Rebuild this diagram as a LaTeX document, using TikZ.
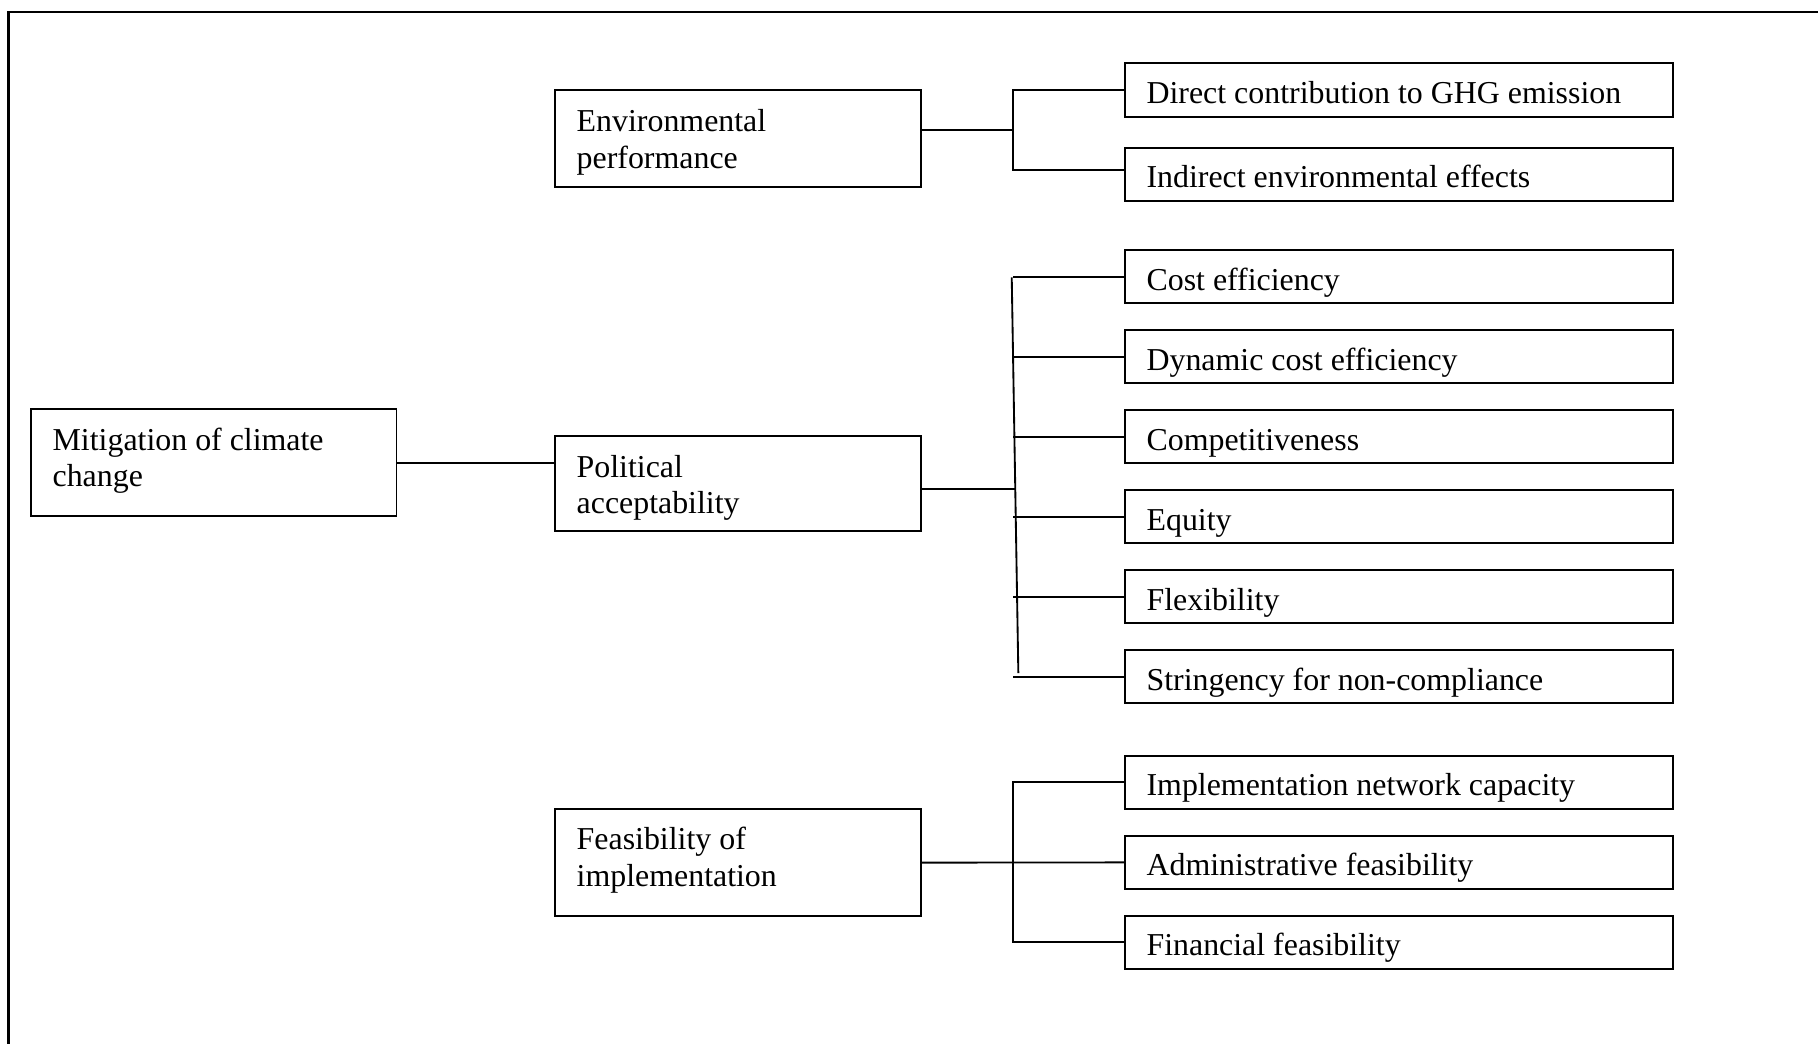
\documentclass[tikz,border=0pt]{standalone}
\usepackage{fontspec}
\setmainfont{Liberation Serif}
\usetikzlibrary{calc}
\begin{document}
\begin{tikzpicture}[x=0.5pt,y=-0.5pt,
  boxl/.style={draw, line width=0.8pt, inner sep=0pt, outer sep=0pt, anchor=north west, minimum width=157.5pt},
  boxr/.style={draw, line width=0.8pt, inner sep=0pt, outer sep=0pt, anchor=north west, minimum width=236.5pt, minimum height=23pt},
  lbl/.style={anchor=base west, inner sep=0pt, align=left, font=\fontsize{13.75pt}{15.8pt}\selectfont},
  conn/.style={line width=0.8pt}]
\useasboundingbox (0,0) rectangle (1568,900);
% outer frame
\draw[line width=0.9pt] (7.3,910) -- (7.3,10) -- (1580,10);

% left boxes
\node[boxl, minimum height=46pt] (mit) at (27,353) {};
\node[boxl, minimum height=42pt] (env) at (479,77.6) {};
\node[boxl, minimum height=41pt] (pol) at (479,376) {};
\node[boxl, minimum height=46pt] (fea) at (479,698) {};

% multi-line labels: base anchor is the baseline of the last line
\node[lbl] (tmit) at ($(mit.north west)+(18,67)$) {Mitigation of climate\\change};
\node[lbl] (tenv) at ($(env.north west)+(18,67.3)$) {Environmental\\performance};
\node[lbl] (tpol) at ($(pol.north west)+(18,67)$) {Political\\acceptability};
\node[lbl] (tfea) at ($(fea.north west)+(18,66.6)$) {Feasibility of\\implementation};

% right boxes
\node[boxr] (d1) at (970,54.6) {};
\node[boxr] (d2) at (970,127.4) {};
\node[boxr] (c1) at (970,215.6) {};
\node[boxr] (c2) at (970,284.6) {};
\node[boxr] (c3) at (970,353.6) {};
\node[boxr] (c4) at (970,422.6) {};
\node[boxr] (c5) at (970,491.6) {};
\node[boxr] (c6) at (970,560.6) {};
\node[boxr] (f1) at (970,651.8) {};
\node[boxr] (f2) at (970,720.8) {};
\node[boxr] (f3) at (970,789.8) {};

\node[lbl] (td1) at ($(d1.north west)+(18.5,34.6)$) {Direct contribution to GHG emission};
\node[lbl] (td2) at ($(d2.north west)+(18.5,34.6)$) {Indirect environmental effects};
\node[lbl] (tc1) at ($(c1.north west)+(18.5,34.6)$) {Cost efficiency};
\node[lbl] (tc2) at ($(c2.north west)+(18.5,34.6)$) {Dynamic cost efficiency};
\node[lbl] (tc3) at ($(c3.north west)+(18.5,34.6)$) {Competitiveness};
\node[lbl] (tc4) at ($(c4.north west)+(18.5,34.6)$) {Equity};
\node[lbl] (tc5) at ($(c5.north west)+(18.5,34.6)$) {Flexibility};
\node[lbl] (tc6) at ($(c6.north west)+(18.5,34.6)$) {Stringency for non-compliance};
\node[lbl] (tf1) at ($(f1.north west)+(18.5,34.6)$) {Implementation network capacity};
\node[lbl] (tf2) at ($(f2.north west)+(18.5,34.6)$) {Administrative feasibility};
\node[lbl] (tf3) at ($(f3.north west)+(18.5,34.6)$) {Financial feasibility};

% connectors
\coordinate (pv) at (874,0);
\draw[conn] (mit.east) -- (mit.east -| pol.west);

% environmental
\coordinate (ej) at (874,112.1);
\coordinate (d2in) at ($(d2.north west)+(0,19.2)$);
\draw[conn] ($(env.north east)+(0,34.5)$) -- (ej);
\draw[conn] (d1.west) -| (d2in -| pv) -- (d2in);

% political
\coordinate (ptop) at (872.6,239.2);
\coordinate (pbot) at (878.3,580.5);
\draw[conn] ($(pol.north east)+(0,45.5)$) -- ++(81.6,0) coordinate (pj);
\draw[conn] (ptop) -- (pbot);
\foreach \n in {c1,c2,c3,c4,c5,c6}
  \draw[conn] (\n.west -| pv) -- (\n.west);

% feasibility
\draw[conn] (fea.east) -- (f2.west);
\draw[conn] (f1.west) -| (f3.west -| pv) -- (f3.west);
\end{tikzpicture}
\end{document}
